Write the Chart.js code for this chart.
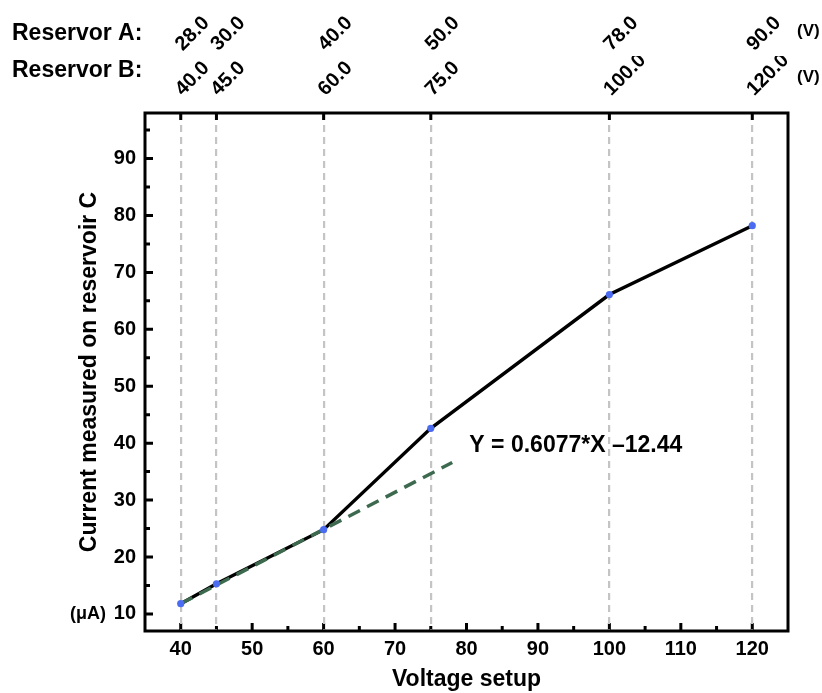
<!DOCTYPE html>
<html><head><meta charset="utf-8">
<script src="https://cdn.jsdelivr.net/npm/chart.js@4.4.1/dist/chart.umd.min.js"></script>
<style>html,body{margin:0;padding:0;background:#fff;} canvas{display:block;}</style>
</head><body>
<canvas id="c" width="822" height="693"></canvas>
<script>
// ---- data ----
const voltage = [40, 45, 60, 75, 100, 120];
const current = [11.8, 15.3, 24.8, 42.6, 66.1, 78.2];
const reservoirA = ['28.0', '30.0', '40.0', '50.0', '78.0', '90.0'];
const reservoirB = ['40.0', '45.0', '60.0', '75.0', '100.0', '120.0'];
const fitX = [40, 78];
const fitY = [11.8, 36.6];
const fitLabel = 'Y = 0.6077*X \u201312.44';
const xTicks = [40, 50, 60, 70, 80, 90, 100, 110, 120];
const xMinorTicks = [45, 55, 65, 75, 85, 95, 105, 115];
const yTicks = [10, 20, 30, 40, 50, 60, 70, 80, 90];
const yMinorTicks = [15, 25, 35, 45, 55, 65, 75, 85, 95];

const FONT = '"Liberation Sans", Arial, sans-serif';
Chart.defaults.font.family = FONT;
Chart.defaults.color = '#000';

const X_MIN = 35, X_MAX = 125, Y_MIN = 7, Y_MAX = 98;

const decor = {
  id: 'decor',
  beforeDraw(chart) {
    const ctx = chart.ctx, a = chart.chartArea;
    const xs = chart.scales.x, ys = chart.scales.y;
    ctx.save();
    ctx.strokeStyle = '#000';
    ctx.lineWidth = 3;
    ctx.beginPath();
    xTicks.forEach(v => { const p = xs.getPixelForValue(v); ctx.moveTo(p, a.bottom); ctx.lineTo(p, a.bottom - 8); });
    yTicks.forEach(v => { const p = ys.getPixelForValue(v); ctx.moveTo(a.left, p); ctx.lineTo(a.left + 8, p); });
    ctx.stroke();
    ctx.beginPath();
    xMinorTicks.forEach(v => { const p = xs.getPixelForValue(v); ctx.moveTo(p, a.bottom); ctx.lineTo(p, a.bottom - 5); });
    yMinorTicks.forEach(v => { const p = ys.getPixelForValue(v); ctx.moveTo(a.left, p); ctx.lineTo(a.left + 5, p); });
    ctx.stroke();
    ctx.restore();
  },
  afterDatasetsDraw(chart) {
    const ctx = chart.ctx, a = chart.chartArea;
    const xs = chart.scales.x, ys = chart.scales.y;
    ctx.save();
    ctx.strokeStyle = '#000';
    ctx.lineWidth = 3;
    ctx.beginPath();
    voltage.forEach(v => { const p = xs.getPixelForValue(v); ctx.moveTo(p, a.top); ctx.lineTo(p, a.top + 7); });
    ctx.stroke();
    ctx.strokeRect(a.left, a.top, a.right - a.left, a.bottom - a.top);
    // texts
    ctx.fillStyle = '#000';
    ctx.textBaseline = 'middle';
    ctx.textAlign = 'left';
    ctx.font = 'bold 23px ' + FONT;
    ctx.fillText('Reservor A:', 12, 34);
    ctx.fillText('Reservor B:', 12, 71);
    ctx.fillText(fitLabel, xs.getPixelForValue(80.4), ys.getPixelForValue(39.6));
    ctx.font = 'bold 17px ' + FONT;
    ctx.fillText('(V)', 797, 31);
    ctx.fillText('(V)', 797, 77);
    ctx.font = 'bold 18px ' + FONT;
    ctx.fillText('(\u03bcA)', 70, ys.getPixelForValue(10));
    ctx.restore();
  }
};

function fixWidth(w) { return s => { s.width = w; s.paddingTop = 0; s.paddingBottom = 0; }; }
function fixHeight(h) { return s => { s.height = h; s.paddingLeft = 0; s.paddingRight = 0; }; }

const topAxis = (labels, weight, height, pad, withGrid) => ({
  type: 'linear', position: 'top', min: X_MIN, max: X_MAX, weight: weight,
  afterBuildTicks: s => { s.ticks = voltage.map(v => ({ value: v })); },
  afterFit: fixHeight(height),
  border: { display: false, dash: [7, 5] },
  grid: withGrid
    ? { display: true, drawOnChartArea: true, drawTicks: false, color: '#c4c4c4', lineWidth: 2.2 }
    : { display: false, drawTicks: false },
  ticks: {
    autoSkip: false, minRotation: 45, maxRotation: 45, padding: pad, labelOffset: 15,
    font: { size: 20, weight: 'bold' },
    callback: (v, i) => labels[i]
  }
});

new Chart(document.getElementById('c'), {
  type: 'line',
  data: {
    datasets: [
      {
        label: 'points', type: 'scatter', order: 0,
        data: voltage.map((v, i) => ({ x: v, y: current[i] })),
        pointRadius: 3.6, pointBackgroundColor: '#4b6cf0', pointBorderWidth: 0, showLine: false
      },
      {
        label: 'fit', order: 1,
        data: fitX.map((v, i) => ({ x: v, y: fitY[i] })),
        borderColor: '#3d6a4f', borderWidth: 3.5, borderDash: [13, 8], pointRadius: 0, tension: 0
      },
      {
        label: 'current', order: 2,
        data: voltage.map((v, i) => ({ x: v, y: current[i] })),
        borderColor: '#000', borderWidth: 3.4, pointRadius: 0, tension: 0
      }
    ]
  },
  options: {
    responsive: false, animation: false, devicePixelRatio: 1,
    layout: { padding: { left: 0, right: 34, top: 5, bottom: 0 } },
    plugins: { legend: { display: false }, tooltip: { enabled: false } },
    scales: {
      x: {
        type: 'linear', position: 'bottom', min: X_MIN, max: X_MAX,
        afterBuildTicks: s => { s.ticks = xTicks.map(v => ({ value: v })); },
        afterFit: fixHeight(62),
        border: { display: false },
        grid: { display: false, drawTicks: false },
        ticks: { padding: 6, font: { size: 20, weight: 'bold' }, maxRotation: 0, autoSkip: false },
        title: { display: true, text: 'Voltage setup', font: { size: 23, weight: 'bold' }, padding: { top: 0, bottom: 0 } }
      },
      xB: topAxis(reservoirB, 0, 57, 12, true),
      xA: topAxis(reservoirA, 1, 51, 0, false),
      y: {
        type: 'linear', position: 'left', min: Y_MIN, max: Y_MAX,
        afterBuildTicks: s => { s.ticks = yTicks.map(v => ({ value: v })); },
        afterFit: fixWidth(145),
        border: { display: false },
        grid: { display: false, drawTicks: false },
        ticks: { padding: 9, font: { size: 20, weight: 'bold' } },
        title: { display: true, text: 'Current measured on reservoir C', font: { size: 23, weight: 'bold' }, padding: { top: 76, bottom: 0 } }
      }
    }
  },
  plugins: [decor]
});
</script>
</body></html>
